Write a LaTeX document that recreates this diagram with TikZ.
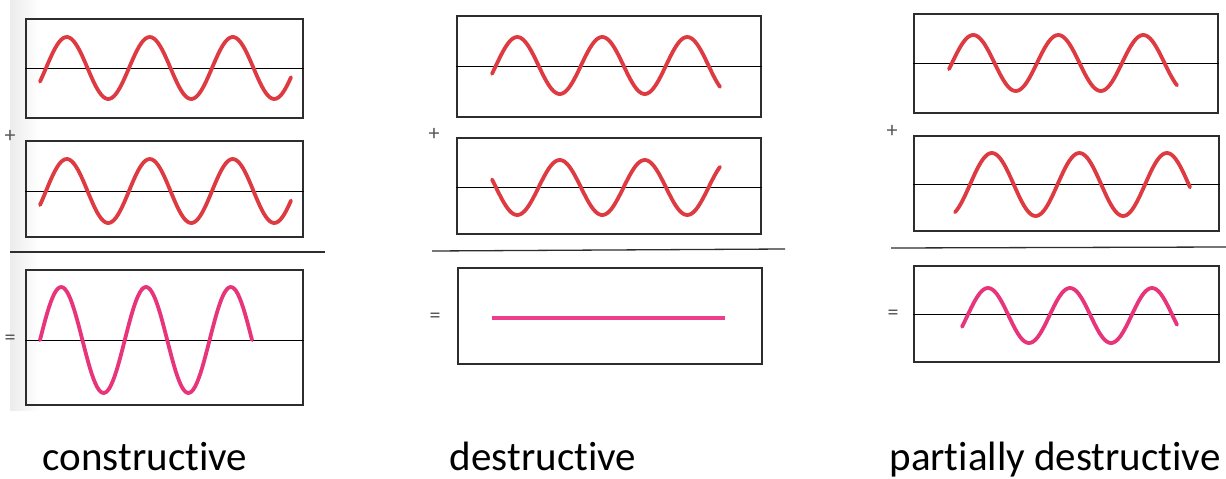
\documentclass[tikz,border=0pt]{standalone}
\usepackage{fontspec}
\setmainfont{Carlito}[Ligatures=NoCommon]
\definecolor{wavered}{RGB}{222,58,66}
\definecolor{wavepink}{RGB}{232,52,122}
\definecolor{linepink}{RGB}{240,60,140}
\definecolor{boxgray}{RGB}{45,45,45}
\tikzset{
  box/.style={draw=boxgray, line width=1.6pt, minimum width=277pt, minimum height=99pt, anchor=north west, inner sep=0pt},
  mid/.style={draw=black, line width=1.1pt},
  wave/.style={draw=wavered, line width=3.8pt, line cap=round, line join=round},
  rwave/.style={draw=wavepink, line width=3.8pt, line cap=round, line join=round},
  sep/.style={draw=boxgray, line width=1.3pt},
  sym/.style={font=\fontsize{22}{24}\selectfont, text=boxgray!80, inner sep=0pt},
  lbl/.style={font=\fontsize{41}{48}\selectfont, anchor=base, inner sep=0pt}
}
\begin{document}
\begin{tikzpicture}[x=1pt,y=-1pt]
\useasboundingbox (0,0) rectangle (1226,479);
\shade[left color=gray!15, right color=white] (10,0) rectangle (40,410);

% ---------- constructive ----------
\node[box, minimum width=277pt, minimum height=99pt] (L1) at (25,18) {};
\node[box, minimum width=277pt, minimum height=96pt] (L2) at (25,140) {};
\node[box, minimum width=277pt, minimum height=135pt] (L3) at (25,269) {};
\draw[mid] ([yshift=-0.5pt]L1.west) -- ([yshift=-0.5pt]L1.east);
\draw[mid] ([yshift=-3pt]L2.west) -- ([yshift=-3pt]L2.east);
\draw[mid] ([yshift=-3.5pt]L3.west) -- ([yshift=-3.5pt]L3.east);
\draw[wave] plot[domain=40:291, samples=120] (\x, {68 - 31*sin((\x-46)/83*360)});
\draw[wave] plot[domain=40:291, samples=120] (\x, {191 - 32*sin((\x-46)/83*360)});
\draw[rwave] plot[domain=40:252, samples=120] (\x, {340 - 53*sin((\x-40)/84.8*360)});
\coordinate (Lsepa) at (10,252);
\coordinate (Lsepb) at (325,252);
\draw[sep] (Lsepa) -- (Lsepb);
\node[sym] (Lplus) at (10,136) {+};
\node[sym] (Leq) at (10,340) {=};
\node[lbl] (Llab) at (145,470) {constructive};

% ---------- destructive ----------
\node[box, minimum width=304pt, minimum height=101pt] (M1) at (456,15) {};
\node[box, minimum width=304pt, minimum height=96pt] (M2) at (456,137) {};
\node[box, minimum width=304pt, minimum height=96pt] (M3) at (457,267) {};
\draw[mid] ([yshift=0pt]M1.west) -- ([yshift=0pt]M1.east);
\draw[mid] ([yshift=-2pt]M2.west) -- ([yshift=-2pt]M2.east);
\draw[wave] plot[domain=492:720, samples=120] (\x, {65.5 - 28.5*sin((\x-496)/85*360)});
\draw[wave] plot[domain=492:720, samples=120] (\x, {187.5 + 27.5*sin((\x-496)/85*360)});
\coordinate (Mla) at (492,318);
\coordinate (Mlb) at (725,318);
\draw[draw=linepink, line width=4pt] (Mla) -- (Mlb);
\coordinate (Msepa) at (432,251);
\coordinate (Msepb) at (785,249);
\draw[sep] (Msepa) -- (Msepb);
\node[sym] (Mplus) at (434,134) {+};
\node[sym] (Meq) at (435,318) {=};
\node[lbl] (Mlab) at (543,470) {destructive};

% ---------- partially destructive ----------
\node[box, minimum width=304pt, minimum height=99pt] (R1) at (913,13) {};
\node[box, minimum width=305pt, minimum height=95pt] (R2) at (913,135) {};
\node[box, minimum width=305pt, minimum height=96pt] (R3) at (913,265) {};
\draw[mid] ([yshift=-0.5pt]R1.west) -- ([yshift=-0.5pt]R1.east);
\draw[mid] ([yshift=-1.5pt]R2.west) -- ([yshift=-1.5pt]R2.east);
\draw[mid] ([yshift=-1pt]R3.west) -- ([yshift=-1pt]R3.east);
\draw[wave] plot[domain=949:1177, samples=120] (\x, {63 - 28*sin((\x-952)/85*360)});
\draw[wave] plot[domain=955:1190, samples=120] (\x, {184.5 - 31.5*sin((\x-970)/87.5*360)});
\draw[rwave] plot[domain=962:1177, samples=120] (\x, {315.5 - 27.5*sin((\x-967.5)/82*360)});
\coordinate (Rsepa) at (891,248);
\coordinate (Rsepb) at (1226,247);
\draw[sep] (Rsepa) -- (Rsepb);
\node[sym] (Rplus) at (892,131) {+};
\node[sym] (Req) at (893,315) {=};
\node[lbl] (Rlab) at (1055,470) {partially destructive};
\end{tikzpicture}
\end{document}
